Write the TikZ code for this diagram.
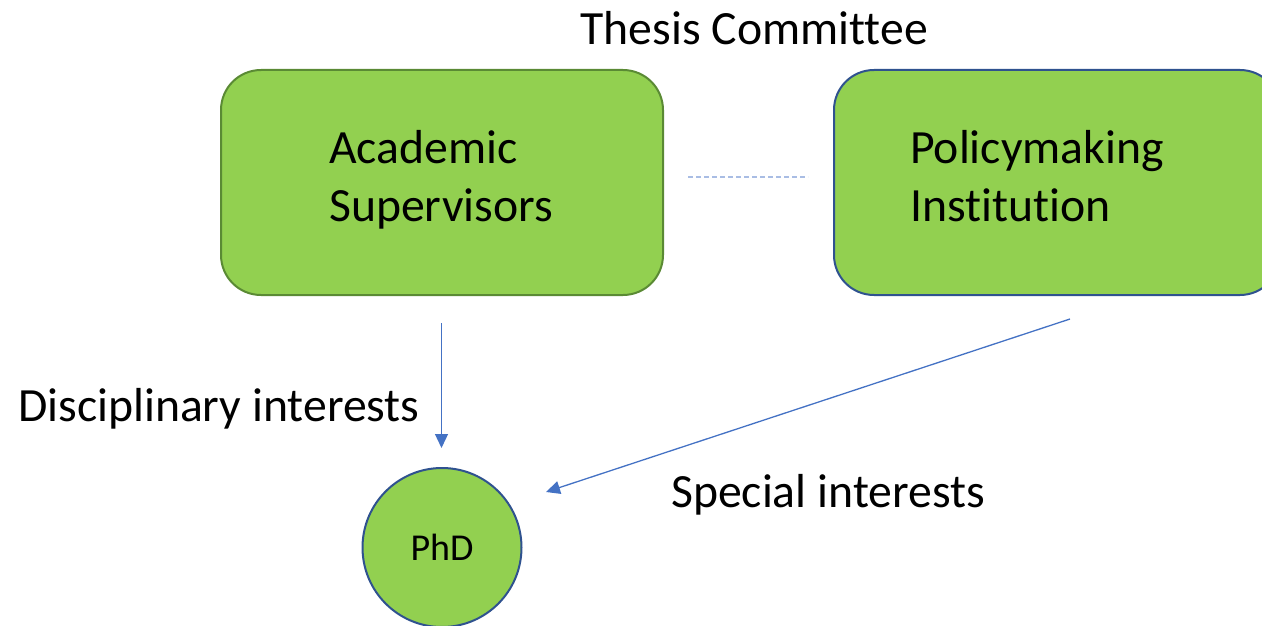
\documentclass[tikz,border=0pt]{standalone}
\usepackage{fontspec}
\setmainfont{Carlito}[Ligatures={NoCommon}]
\usetikzlibrary{arrows.meta}
\definecolor{boxgreen}{HTML}{92D050}
\definecolor{edgegreen}{HTML}{5A8A34}
\definecolor{edgeblue}{HTML}{2F528F}
\definecolor{arrowblue}{HTML}{4472C4}
\definecolor{dashblue}{HTML}{A9BDE4}
\tikzset{
  bigtext/.style={font=\fontsize{47.7}{58}\selectfont, inner sep=0pt},
  roundbox/.style={rectangle, rounded corners=40pt, fill=boxgreen, line width=2pt,
    minimum height=225pt, inner sep=0pt},
  phdnode/.style={circle, fill=boxgreen, draw=edgeblue, line width=2pt,
    minimum size=159pt, inner sep=0pt, font=\fontsize{38}{46}\selectfont},
  flow/.style={draw=arrowblue, line width=1.3pt, -{Triangle[width=13pt,length=14pt]}},
  linkline/.style={draw=dashblue, line width=2pt, dash pattern=on 5pt off 3pt}
}
\begin{document}
\begin{tikzpicture}[x=1pt,y=-1pt]
\useasboundingbox (0,0) rectangle (1262,626);
\clip (0,0) rectangle (1262,626);
\node[bigtext, anchor=base west] (title) at (580.5,45) {Thesis Committee};
\node[roundbox, draw=edgegreen, minimum width=442pt] (acad) at (442,182.5) {};
\node[bigtext, align=left, anchor=base west] (acadtext) at (329,221) {Academic\\Supervisors};
\node[roundbox, draw=edgeblue, minimum width=446pt] (pol) at (1057,182.5) {};
\node[bigtext, align=left, anchor=base west] (poltext) at (910,221) {Policymaking\\Institution};
\coordinate (dashA) at (688,177);
\coordinate (dashB) at (808,177);
\draw[linkline] (dashA) -- (dashB);
\node[phdnode] (phd) at (442,547.5) {PhD};
\coordinate (a1s) at (441.5,323);
\coordinate (a1e) at (441.5,448);
\draw[flow] (a1s) -- (a1e);
\coordinate (a2s) at (1070,319);
\coordinate (a2e) at (546,492);
\draw[flow] (a2s) -- (a2e);
\node[bigtext, anchor=base west] (disc) at (18,421.5) {Disciplinary interests};
\node[bigtext, anchor=base west] (spec) at (671,507) {Special interests};
\end{tikzpicture}
\end{document}
